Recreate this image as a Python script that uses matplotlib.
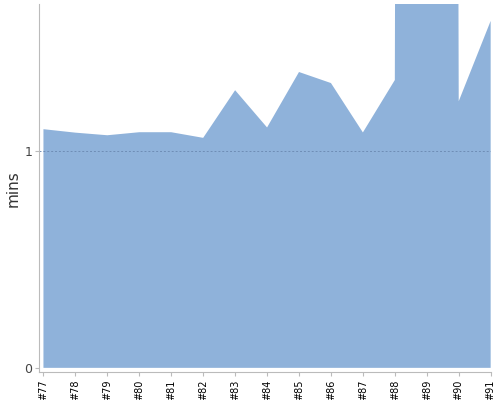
import matplotlib
matplotlib.use('Agg')
from matplotlib import pyplot as plt

builds = [77, 78, 79, 80, 81, 82, 83, 84, 85, 86, 87, 88, 89, 90, 91]
mins = [1.102, 1.086, 1.074, 1.088, 1.088, 1.062, 1.282, 1.110, 1.366, 1.315,
        1.087, 1.329, 60.0, 1.231, 1.602]
labels = ['#%d' % b for b in builds]

fig = plt.figure(figsize=(5, 4), dpi=100)
ax = fig.add_axes([0.0786, 0.069, 0.904, 0.921])

ax.fill_between(builds, 0, mins, color='#8fb2da', linewidth=0, zorder=1)
ax.axhline(1, color='#6f8db5', linestyle=(0, (2, 2)), linewidth=0.7, zorder=2)

ax.set_xlim(76.87, 91.02)
ax.set_ylim(-0.021, 1.68)
ax.set_xticks(builds)
ax.set_xticklabels(labels, rotation=90, fontsize=7, color='black')
ax.set_yticks([0, 1])
ax.set_yticklabels(['0', '1'], fontsize=9, color='#444444')
ax.set_ylabel('mins', fontsize=11, color='#333333')
ax.yaxis.set_label_coords(-0.042, 0.5)

for s in ('top', 'right'):
    ax.spines[s].set_visible(False)
for s in ('left', 'bottom'):
    ax.spines[s].set_color('#bbbbbb')
ax.tick_params(axis='both', colors='#bbbbbb', length=3, width=0.8, pad=2)
for t in ax.get_xticklabels():
    t.set_color('black')
for t in ax.get_yticklabels():
    t.set_color('#444444')

fig.savefig('out.png', dpi=100)
